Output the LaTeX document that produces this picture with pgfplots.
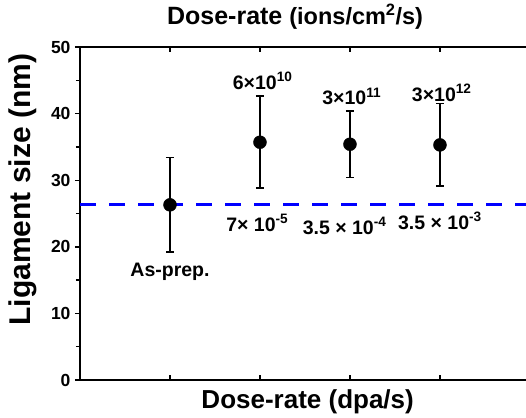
\documentclass[border=0pt]{standalone}
\usepackage{pgfplots}
\pgfplotsset{compat=1.18}
\usepackage{fontspec}
\setmainfont{Liberation Sans}
\begin{document}
\begin{tikzpicture}[x=1pt,y=1pt]
\path[use as bounding box] (-80,-37) rectangle (446,380);
\begin{axis}[
  at={(0,0)}, anchor=south west,
  scale only axis, width=446pt, height=333pt,
  xmin=0, xmax=4.956, ymin=0, ymax=50,
  axis x line=box, axis y line=left,
  axis line style={line width=1.6pt,-},
  xtick={1,2,3,4}, xticklabels={},
  xtick align=inside,
  x tick style={line width=1.4pt, black},
  major tick length=5pt, minor tick length=4pt,
  ytick={0,10,20,30,40,50},
  minor ytick={5,15,25,35,45},
  ytick align=outside,
  y tick style={line width=1.4pt, black},
  tick pos=both,
  ytick pos=left,
  /pgf/number format/assume math mode=true,
  yticklabel style={font=\fontsize{17.5}{20}\selectfont\bfseries, xshift=-1pt},
  clip=false,
]
\addplot[only marks, mark=*, mark size=6.5pt, black,
  error bars/.cd, y dir=both, y explicit,
  error bar style={line width=1.6pt, black},
  error mark options={rotate=90, mark size=4pt, line width=1.6pt, black}]
  coordinates {
  (1,26.3) +- (0,7.1)
  (2,35.7) +- (0,6.9)
  (3,35.4) +- (0,5.0)
  (4,35.3) +- (0,6.2)
};
\addplot[blue, line width=3pt, dash pattern=on 16pt off 13pt] coordinates {(0,26.3) (4.956,26.3)};

\node[font=\fontsize{19.5}{22}\selectfont\bfseries] at (axis cs:2.03,44.9) {6×10\textsuperscript{10}};
\node[font=\fontsize{19.5}{22}\selectfont\bfseries] at (axis cs:3.02,42.6) {3×10\textsuperscript{11}};
\node[font=\fontsize{19.5}{22}\selectfont\bfseries] at (axis cs:4.02,43.1) {3×10\textsuperscript{12}};
\node[font=\fontsize{19.5}{22}\selectfont\bfseries] at (axis cs:1.97,23.6) {7× 10\textsuperscript{-5}};
\node[font=\fontsize{19.5}{22}\selectfont\bfseries] at (axis cs:2.94,23.1) {3.5 × 10\textsuperscript{-4}};
\node[font=\fontsize{19.5}{22}\selectfont\bfseries] at (axis cs:4.0,23.9) {3.5 × 10\textsuperscript{-3}};
\node[font=\fontsize{19.5}{22}\selectfont\bfseries] at (axis cs:1.0,16.2) {As-prep.};

\node[font=\fontsize{25}{29}\selectfont\bfseries] at (axis cs:2.39,54.6) {Dose-rate {\fontsize{23.5}{27}\selectfont (ions/cm\textsuperscript{2}/s)}};
\node[font=\fontsize{26}{30}\selectfont\bfseries] at (axis cs:2.53,-3.3) {Dose-rate (dpa/s)};
\node[font=\fontsize{30}{34}\selectfont\bfseries, rotate=90] at (axis cs:-0.63,28.6) {Ligament size (nm)};
\end{axis}
\end{tikzpicture}
\end{document}
